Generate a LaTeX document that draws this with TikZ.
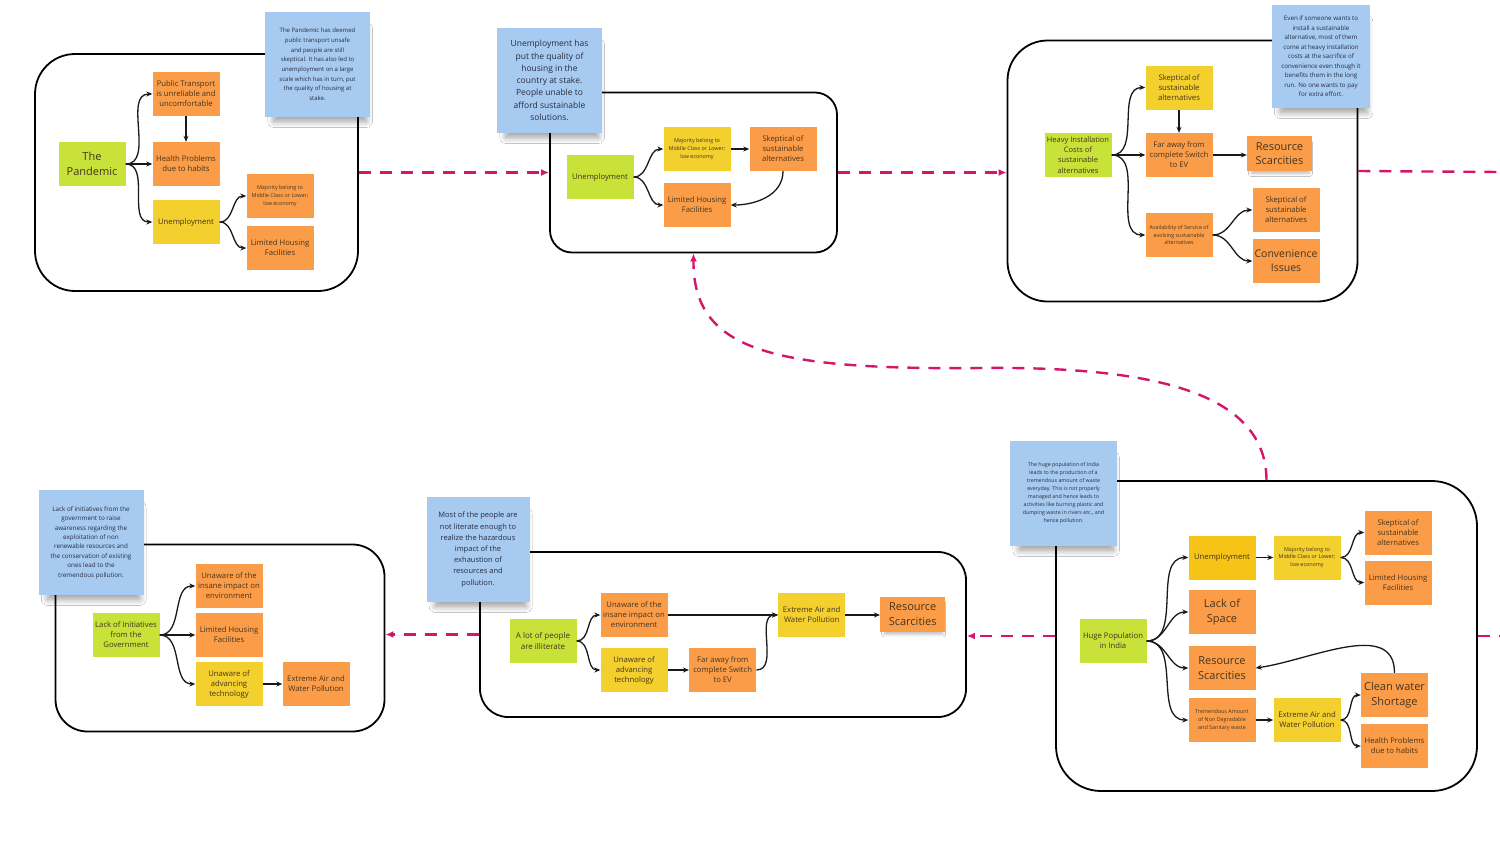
\documentclass[tikz,border=0pt]{standalone}
\usepackage{fontspec}
\setmainfont{Open Sans}
\usetikzlibrary{arrows.meta,shadows.blur}
\definecolor{limeg}{RGB}{200,226,58}
\definecolor{orng}{RGB}{251,157,72}
\definecolor{yelw}{RGB}{244,208,46}
\definecolor{yeldk}{RGB}{246,196,22}
\definecolor{stick}{RGB}{166,202,240}
\definecolor{pinkc}{RGB}{212,22,106}
\definecolor{txt}{RGB}{70,52,30}
\definecolor{ntxt}{RGB}{40,45,62}
\begin{document}
\begin{tikzpicture}[x=1pt,y=-1pt,
  box/.style={rectangle, inner sep=1pt, minimum width=67pt, minimum height=44pt, align=center, text=txt, font=\fontsize{7.7}{10}\selectfont},
  gbox/.style={box, fill=limeg},
  obox/.style={box, fill=orng},
  ybox/.style={box, fill=yelw},
  tinytext/.style={font=\fontsize{5.4}{7.6}\selectfont},
  bigtext/.style={font=\fontsize{11}{14.5}\selectfont},
  rsbox/.style={obox, bigtext, minimum width=65pt, minimum height=35pt, blur shadow={shadow xshift=1pt, shadow yshift=-5pt, shadow scale=0.9, shadow blur radius=3pt, shadow opacity=25}},
  note/.style={rectangle, fill=stick, minimum width=105pt, minimum height=105pt, inner sep=2pt, align=center, text=ntxt, blur shadow={shadow xshift=3pt, shadow yshift=-12pt, shadow scale=0.88, shadow blur radius=7pt, shadow blur steps=12, shadow opacity=40}},
  frame/.style={draw=black, line width=1.8pt, rectangle},
  arr/.style={draw=black!90, line width=1.3pt, -{Stealth[length=6pt,width=5pt]}},
  link/.style={draw=pinkc, line width=2.4pt, dash pattern=on 12pt off 9pt, -{Latex[length=8pt,width=7pt]}},
  plainlink/.style={draw=pinkc, line width=2.4pt, dash pattern=on 12pt off 9pt},
]
\fill[white] (0,0) rectangle (1500,844);
\useasboundingbox (0,0) rectangle (1500,844);

% frames
\node[frame, rounded corners=40pt, minimum width=323pt, minimum height=237pt] (f1) at (196.5,172.5) {};
\node[frame, rounded corners=22pt, minimum width=287pt, minimum height=160pt] (f2) at (693.5,172.5) {};
\node[frame, rounded corners=40pt, minimum width=350pt, minimum height=261pt] (f3) at (1182.5,171) {};
\node[frame, rounded corners=32pt, minimum width=329pt, minimum height=187pt] (f4) at (220,638) {};
\node[frame, rounded corners=28pt, minimum width=486pt, minimum height=165pt] (f5) at (723,634.5) {};
\node[frame, rounded corners=45pt, minimum width=421pt, minimum height=310pt] (f6) at (1266.5,636) {};

% group 1
\node[gbox, bigtext] (pan) at (92,164) {The\\Pandemic};
\node[obox] (pt) at (186,94) {Public Transport\\is unreliable and\\uncomfortable};
\node[obox] (hp) at (186,164) {Health Problems\\due to habits};
\node[ybox] (un1) at (186,222) {Unemployment};
\node[obox, tinytext] (maj1) at (280,196) {Majority belong to\\Middle Class or Lower;\\low economy};
\node[obox] (lh1) at (280,248) {Limited Housing\\Facilities};
\draw[arr] (pan.east) to[out=0,in=180] (pt.west);
\draw[arr] (pan.east) -- (hp.west);
\draw[arr] (pan.east) to[out=0,in=180] (un1.west);
\draw[arr] (pt.south) -- (hp.north);
\draw[arr] (un1.east) to[out=0,in=180] (maj1.west);
\draw[arr] (un1.east) to[out=0,in=180] (lh1.west);

% group 2
\node[gbox] (un2) at (600,177) {Unemployment};
\node[ybox, tinytext] (maj2) at (697,149) {Majority belong to\\Middle Class or Lower;\\low economy};
\node[obox] (sk2) at (783,149) {Skeptical of\\sustainable\\alternatives};
\node[obox] (lh2) at (697,205) {Limited Housing\\Facilities};
\draw[arr] (un2.east) to[out=0,in=180] (maj2.west);
\draw[arr] (un2.east) to[out=0,in=180] (lh2.west);
\draw[arr] (maj2.east) -- (sk2.west);
\draw[arr] (sk2.south) to[out=-90,in=0] (lh2.east);

% group 3
\node[gbox, font=\fontsize{7.5}{10.3}\selectfont] (hv) at (1078,155) {Heavy Installation\\Costs of\\sustainable\\alternatives};
\node[ybox] (sk3) at (1179,87.5) {Skeptical of\\sustainable\\alternatives};
\node[obox] (far3) at (1179,155) {Far away from\\complete Switch\\to EV};
\node[rsbox] (rs3) at (1279.5,153.5) {Resource\\Scarcities};
\node[obox, tinytext] (av3) at (1179,235) {Availability of Service of\\evolving sustainable\\alternatives};
\node[obox] (sk3b) at (1286,210) {Skeptical of\\sustainable\\alternatives};
\node[obox, font=\fontsize{10.5}{14}\selectfont] (cv3) at (1286,261) {Convenience\\Issues};
\draw[arr] (hv.east) to[out=0,in=180] (sk3.west);
\draw[arr] (hv.east) -- (far3.west);
\draw[arr] (hv.east) to[out=0,in=180] (av3.west);
\draw[arr] (sk3.south) -- (far3.north);
\draw[arr] (far3.east) -- (far3.east -| rs3.west);
\draw[arr] (av3.east) to[out=0,in=180] (sk3b.west);
\draw[arr] (av3.east) to[out=0,in=180] (cv3.west);

% group 4
\node[gbox] (lk4) at (126,635) {Lack of Initiatives\\from the\\Government};
\node[obox] (ua4) at (229,586) {Unaware of the\\insane impact on\\environment};
\node[obox] (lh4) at (229,635) {Limited Housing\\Facilities};
\node[ybox] (ut4) at (229,684) {Unaware of\\advancing\\technology};
\node[obox] (ex4) at (316,684) {Extreme Air and\\Water Pollution};
\draw[arr] (lk4.east) to[out=0,in=180] (ua4.west);
\draw[arr] (lk4.east) -- (lh4.west);
\draw[arr] (lk4.east) to[out=0,in=180] (ut4.west);
\draw[arr] (ut4.east) -- (ex4.west);

% group 5
\node[gbox, font=\fontsize{8}{10.4}\selectfont] (lot5) at (543,641) {A lot of people\\are illiterate};
\node[obox] (ui5) at (634,615) {Unaware of the\\insane impact on\\environment};
\node[ybox] (ua5) at (634,670) {Unaware of\\advancing\\technology};
\node[obox] (fa5) at (722.7,670) {Far away from\\complete Switch\\to EV};
\node[ybox] (ex5) at (811.7,615) {Extreme Air and\\Water Pollution};
\node[rsbox] (rs5) at (912.7,614) {Resource\\Scarcities};
\draw[arr] (lot5.east) to[out=0,in=180] (ui5.west);
\draw[arr] (lot5.east) to[out=0,in=180] (ua5.west);
\draw[arr] (ui5.east) -- (ex5.west);
\draw[arr] (ua5.east) -- (fa5.west);
\draw[arr] (fa5.east) to[out=0,in=180] (ex5.west);
\draw[arr] (ex5.east) -- (ex5.east -| rs5.west);

% group 6
\node[gbox] (hu6) at (1113,641) {Huge Population\\in India};
\node[box, fill=yeldk] (un6) at (1222,557.5) {Unemployment};
\node[obox, bigtext] (ls6) at (1222,612) {Lack of\\Space};
\node[obox, bigtext] (rs6) at (1222,668) {Resource\\Scarcities};
\node[obox, tinytext] (tr6) at (1222,720) {Tremendous Amount\\of Non Degradable\\and Sanitary waste};
\node[ybox, tinytext] (maj6) at (1307,557.5) {Majority belong to\\Middle Class or Lower;\\low economy};
\node[obox] (sk6) at (1398,532.5) {Skeptical of\\sustainable\\alternatives};
\node[obox] (lh6) at (1398,582.5) {Limited Housing\\Facilities};
\node[ybox] (ex6) at (1307,720) {Extreme Air and\\Water Pollution};
\node[obox, bigtext] (cw6) at (1394.5,695) {Clean water\\Shortage};
\node[obox] (hp6) at (1394.5,746) {Health Problems\\due to habits};
\draw[arr] (hu6.east) to[out=0,in=180] (un6.west);
\draw[arr] (hu6.east) to[out=0,in=180] (ls6.west);
\draw[arr] (hu6.east) to[out=0,in=180] (rs6.west);
\draw[arr] (hu6.east) to[out=0,in=180] (tr6.west);
\draw[arr] (un6.east) -- (maj6.west);
\draw[arr] (maj6.east) to[out=0,in=180] (sk6.west);
\draw[arr] (maj6.east) to[out=0,in=180] (lh6.west);
\draw[arr] (tr6.east) -- (ex6.west);
\draw[arr] (ex6.east) to[out=0,in=180] (cw6.west);
\draw[arr] (ex6.east) to[out=0,in=180] (hp6.west);
\draw[arr] (cw6.north) to[out=90,in=8] (rs6.east);

% sticky notes
\node[note, font=\fontsize{6}{9.7}\selectfont] (n1) at (317.5,64.5) {The Pandemic has deemed\\public transport unsafe\\and people are still\\skeptical. It has also led to\\unemployment on a large\\scale which has in turn, put\\the quality of housing at\\stake.};
\node[note, font=\fontsize{8.5}{12.3}\selectfont] (n2) at (549.5,80.5) {Unemployment has\\put the quality of\\housing in the\\country at stake.\\People unable to\\afford sustainable\\solutions.};
\node[note, minimum width=98pt, minimum height=103pt, font=\fontsize{6.2}{9.5}\selectfont] (n3) at (1321,56.5) {Even if someone wants to\\install a sustainable\\alternative, most of them\\come at heavy installation\\costs at the sacrifice of\\convenience even though it\\benefits them in the long\\run. No one wants to pay\\for extra effort.};
\node[note, font=\fontsize{6.3}{9.4}\selectfont] (n4) at (91,542.5) {Lack of initiatives from the\\government to raise\\awareness regarding the\\exploitation of non\\renewable resources and\\the conservation of existing\\ones lead to the\\tremendous pollution.};
\node[note, minimum width=103pt, font=\fontsize{7.5}{11.2}\selectfont] (n5) at (478,549.5) {Most of the people are\\not literate enough to\\realize the hazardous\\impact of the\\exhaustion of\\resources and\\pollution.};
\node[note, minimum width=107pt, font=\fontsize{5.3}{8}\selectfont] (n6) at (1063.5,493.5) {The huge population of India\\leads to the production of a\\tremendous amount of waste\\everyday. This is not properly\\managed and hence leads to\\activities like burning plastic and\\dumping waste in rivers etc., and\\hence pollution.};

% pink links
\coordinate (ex1) at (1500,172);
\coordinate (ex2) at (1500,636);
\draw[link] (f1.east) -- (f1.east -| f2.west);
\draw[link] (f2.east) -- (f2.east -| f3.west);
\draw[plainlink] (f3.east) -- (ex1);
\draw[plainlink] (f6.east) -- (ex2);
\draw[link] (f6.west) -- (f6.west -| f5.east);
\draw[link] (f5.west) -- (f5.west -| f4.east);
\draw[link] (f6.north) .. controls (1266,395) and (1160,366) .. (980,368) .. controls (770,370) and (693,350) .. (f2.south);
\end{tikzpicture}
\end{document}
